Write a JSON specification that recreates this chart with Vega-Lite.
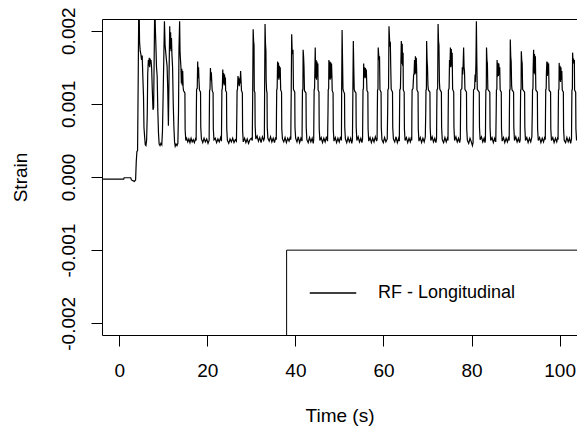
{
"$schema": "https://vega.github.io/schema/vega-lite/v6.json",
"width": 475, "height": 316,
"autosize": "none",
"padding": {"left": 102, "top": 19, "right": 0, "bottom": 92},
"background": "white",
"config": {
  "view": {"stroke": null},
  "font": "Liberation Sans",
  "axis": {"grid": false, "domainColor": "#000", "domainWidth": 1, "tickColor": "#000", "tickWidth": 1, "tickSize": 11,
           "labelColor": "#000", "titleColor": "#000", "labelFont": "Liberation Sans", "titleFont": "Liberation Sans",
           "labelFontSize": 19, "titleFontSize": 19, "titleFontWeight": "normal", "labelOverlap": false, "labelFlush": false}
},
"data": {"values": [
{"time":-4.0,"strain":-0.00003},{"time":1.0,"strain":-0.00003},{"time":1.1,"strain":-0.00001},{"time":2.6,"strain":-0.00001},{"time":2.75,"strain":-0.00004},{"time":3.4,"strain":-0.00006},{"time":3.7,"strain":-0.00004},{"time":3.85,"strain":0.00021},{"time":4.0,"strain":0.00035},{"time":4.15,"strain":0.00036},{"time":4.3,"strain":0.0014},{"time":4.45,"strain":0.0026},{"time":4.6,"strain":0.00185},{"time":4.75,"strain":0.00172},{"time":4.9,"strain":0.00168},{"time":5.05,"strain":0.0016},{"time":5.2,"strain":0.00166},{"time":5.35,"strain":0.00136},{"time":5.5,"strain":0.0011},{"time":5.6,"strain":0.00068},{"time":5.75,"strain":0.00055},{"time":5.9,"strain":0.00044},{"time":6.05,"strain":0.00043},{"time":6.2,"strain":0.0005},{"time":6.35,"strain":0.00085},{"time":6.45,"strain":0.0014},{"time":6.6,"strain":0.0016},{"time":6.7,"strain":0.00152},{"time":6.8,"strain":0.00163},{"time":6.9,"strain":0.0015},{"time":7.0,"strain":0.00162},{"time":7.1,"strain":0.00155},{"time":7.2,"strain":0.0016},{"time":7.35,"strain":0.00148},{"time":7.5,"strain":0.00118},{"time":7.65,"strain":0.00092},{"time":7.8,"strain":0.00095},{"time":7.95,"strain":0.0018},{"time":8.05,"strain":0.0024},{"time":8.2,"strain":0.002},{"time":8.3,"strain":0.00182},{"time":8.45,"strain":0.0015},{"time":8.6,"strain":0.00138},{"time":8.75,"strain":0.0009},{"time":8.9,"strain":0.0006},{"time":9.05,"strain":0.00045},{"time":9.25,"strain":0.00043},{"time":9.45,"strain":0.00046},{"time":9.65,"strain":0.00044},{"time":9.8,"strain":0.00062},{"time":9.95,"strain":0.0011},{"time":10.1,"strain":0.0016},{"time":10.25,"strain":0.00213},{"time":10.4,"strain":0.0018},{"time":10.55,"strain":0.0017},{"time":10.7,"strain":0.0016},{"time":10.85,"strain":0.00152},{"time":11.0,"strain":0.0012},{"time":11.15,"strain":0.0007},{"time":11.3,"strain":0.0014},{"time":11.45,"strain":0.00206},{"time":11.55,"strain":0.00175},{"time":11.65,"strain":0.00198},{"time":11.75,"strain":0.00172},{"time":11.85,"strain":0.0019},{"time":11.95,"strain":0.00168},{"time":12.1,"strain":0.0015},{"time":12.25,"strain":0.001},{"time":12.4,"strain":0.00068},{"time":12.55,"strain":0.00048},{"time":12.7,"strain":0.00042},{"time":12.9,"strain":0.00045},{"time":13.1,"strain":0.00043},{"time":13.3,"strain":0.00046},{"time":13.45,"strain":0.0009},{"time":13.55,"strain":0.00174},{"time":13.7,"strain":0.00213},{"time":13.8,"strain":0.0017},{"time":13.9,"strain":0.0016},{"time":14.0,"strain":0.0015},{"time":14.1,"strain":0.00128},{"time":14.2,"strain":0.00148},{"time":14.3,"strain":0.00125},{"time":14.4,"strain":0.00145},{"time":14.5,"strain":0.00122},{"time":14.6,"strain":0.00118},{"time":14.9,"strain":0.00115},{"time":14.95,"strain":0.00065},{"time":15.1,"strain":0.0005},
{"time":15.3,"strain":0.00053},{"time":15.55,"strain":0.00048},{"time":15.8,"strain":0.00052},{"time":16.05,"strain":0.00047},{"time":16.3,"strain":0.00053},{"time":16.55,"strain":0.00048},{"time":16.8,"strain":0.00051},{"time":17.05,"strain":0.00047},{"time":17.3,"strain":0.00052},{"time":17.45,"strain":0.0005},
{"time":17.5,"strain":0.00088},{"time":17.55,"strain":0.0012},{"time":17.7,"strain":0.00121},{"time":17.8,"strain":0.00158},{"time":17.9,"strain":0.00135},{"time":18.0,"strain":0.0015},{"time":18.1,"strain":0.00132},{"time":18.2,"strain":0.00119},{"time":18.45,"strain":0.00116},{"time":18.5,"strain":0.00068},{"time":18.65,"strain":0.00052},
{"time":18.95,"strain":0.00047},{"time":19.25,"strain":0.00053},{"time":19.55,"strain":0.00048},{"time":19.85,"strain":0.00052},{"time":20.15,"strain":0.00046},{"time":20.4,"strain":0.0005},
{"time":20.45,"strain":0.00086},{"time":20.5,"strain":0.00118},{"time":20.6,"strain":0.0012},{"time":20.7,"strain":0.00149},{"time":20.8,"strain":0.00132},{"time":20.9,"strain":0.00143},{"time":21.0,"strain":0.0013},{"time":21.1,"strain":0.00118},{"time":21.3,"strain":0.00115},{"time":21.35,"strain":0.00066},{"time":21.5,"strain":0.00051},
{"time":21.8,"strain":0.00053},{"time":22.1,"strain":0.00047},{"time":22.4,"strain":0.00052},{"time":22.7,"strain":0.00048},{"time":23.0,"strain":0.00054},{"time":23.2,"strain":0.00049},
{"time":23.25,"strain":0.00088},{"time":23.3,"strain":0.00119},{"time":23.4,"strain":0.00121},{"time":23.5,"strain":0.00147},{"time":23.6,"strain":0.00128},{"time":23.7,"strain":0.00142},{"time":23.8,"strain":0.00125},{"time":23.9,"strain":0.0014},{"time":24.0,"strain":0.00127},{"time":24.1,"strain":0.00136},{"time":24.15,"strain":0.00118},{"time":24.35,"strain":0.00116},{"time":24.4,"strain":0.00066},{"time":24.55,"strain":0.0005},
{"time":24.85,"strain":0.00046},{"time":25.15,"strain":0.00052},{"time":25.45,"strain":0.00048},{"time":25.75,"strain":0.00053},{"time":26.05,"strain":0.00047},{"time":26.35,"strain":0.00051},{"time":26.6,"strain":0.00049},
{"time":26.7,"strain":0.0009},{"time":26.75,"strain":0.00118},{"time":26.85,"strain":0.0012},{"time":26.95,"strain":0.00138},{"time":27.05,"strain":0.00126},{"time":27.15,"strain":0.00136},{"time":27.25,"strain":0.00124},{"time":27.35,"strain":0.00134},{"time":27.45,"strain":0.00128},{"time":27.55,"strain":0.00145},{"time":27.65,"strain":0.00132},{"time":27.75,"strain":0.00118},{"time":27.95,"strain":0.00115},{"time":28.0,"strain":0.00064},{"time":28.15,"strain":0.00048},
{"time":28.45,"strain":0.00053},{"time":28.75,"strain":0.00047},{"time":29.05,"strain":0.00052},{"time":29.35,"strain":0.00046},{"time":29.65,"strain":0.00051},{"time":29.95,"strain":0.00053},{"time":30.2,"strain":0.0005},
{"time":30.3,"strain":0.00118},{"time":30.4,"strain":0.00202},{"time":30.5,"strain":0.00186},{"time":30.6,"strain":0.0018},{"time":30.65,"strain":0.00118},{"time":30.8,"strain":0.00115},{"time":30.85,"strain":0.0007},{"time":31.0,"strain":0.00052},
{"time":31.3,"strain":0.00056},{"time":31.6,"strain":0.00049},{"time":31.9,"strain":0.00054},{"time":32.2,"strain":0.00047},{"time":32.5,"strain":0.00055},{"time":32.8,"strain":0.0005},{"time":32.95,"strain":0.00053},
{"time":33.0,"strain":0.00118},{"time":33.1,"strain":0.00209},{"time":33.2,"strain":0.00182},{"time":33.3,"strain":0.00172},{"time":33.35,"strain":0.00133},{"time":33.45,"strain":0.00118},{"time":33.55,"strain":0.00115},{"time":33.6,"strain":0.00068},{"time":33.75,"strain":0.00053},
{"time":34.05,"strain":0.00049},{"time":34.35,"strain":0.00055},{"time":34.65,"strain":0.00048},{"time":34.95,"strain":0.00053},{"time":35.25,"strain":0.00047},{"time":35.5,"strain":0.00054},{"time":35.65,"strain":0.00051},
{"time":35.7,"strain":0.00088},{"time":35.75,"strain":0.00119},{"time":35.85,"strain":0.00121},{"time":35.95,"strain":0.00158},{"time":36.05,"strain":0.00135},{"time":36.15,"strain":0.00156},{"time":36.25,"strain":0.00133},{"time":36.35,"strain":0.00152},{"time":36.45,"strain":0.00136},{"time":36.55,"strain":0.0015},{"time":36.65,"strain":0.00119},{"time":36.85,"strain":0.00116},{"time":36.9,"strain":0.00066},{"time":37.05,"strain":0.00052},
{"time":37.35,"strain":0.00048},{"time":37.65,"strain":0.00054},{"time":37.95,"strain":0.00047},{"time":38.25,"strain":0.00053},{"time":38.55,"strain":0.00049},{"time":38.85,"strain":0.00055},{"time":38.95,"strain":0.00051},
{"time":39.0,"strain":0.0009},{"time":39.05,"strain":0.00119},{"time":39.15,"strain":0.00195},{"time":39.25,"strain":0.00174},{"time":39.35,"strain":0.00168},{"time":39.45,"strain":0.00174},{"time":39.55,"strain":0.0012},{"time":39.85,"strain":0.00116},{"time":39.9,"strain":0.00068},{"time":40.05,"strain":0.00053},
{"time":40.35,"strain":0.00048},{"time":40.65,"strain":0.00055},{"time":40.95,"strain":0.00047},{"time":41.25,"strain":0.00053},{"time":41.5,"strain":0.00049},
{"time":41.55,"strain":0.0009},{"time":41.6,"strain":0.00119},{"time":41.7,"strain":0.0012},{"time":41.75,"strain":0.00174},{"time":41.85,"strain":0.00165},{"time":41.95,"strain":0.0015},{"time":42.05,"strain":0.00118},{"time":42.4,"strain":0.00115},{"time":42.45,"strain":0.00068},{"time":42.6,"strain":0.00051},
{"time":42.9,"strain":0.00047},{"time":43.2,"strain":0.00054},{"time":43.5,"strain":0.00048},{"time":43.8,"strain":0.00053},{"time":44.05,"strain":0.00046},{"time":44.15,"strain":0.00051},
{"time":44.2,"strain":0.00088},{"time":44.25,"strain":0.00119},{"time":44.35,"strain":0.00121},{"time":44.45,"strain":0.00158},{"time":44.5,"strain":0.00177},{"time":44.6,"strain":0.00135},{"time":44.7,"strain":0.0016},{"time":44.8,"strain":0.00133},{"time":44.9,"strain":0.00158},{"time":45.0,"strain":0.00137},{"time":45.1,"strain":0.00155},{"time":45.15,"strain":0.00119},{"time":45.35,"strain":0.00116},{"time":45.4,"strain":0.00066},{"time":45.55,"strain":0.0005},
{"time":45.85,"strain":0.00054},{"time":46.15,"strain":0.00047},{"time":46.45,"strain":0.00053},{"time":46.75,"strain":0.00048},{"time":47.05,"strain":0.00055},{"time":47.3,"strain":0.00049},
{"time":47.4,"strain":0.0009},{"time":47.45,"strain":0.00119},{"time":47.55,"strain":0.00121},{"time":47.6,"strain":0.0016},{"time":47.7,"strain":0.00134},{"time":47.8,"strain":0.00158},{"time":47.9,"strain":0.00133},{"time":48.0,"strain":0.00157},{"time":48.1,"strain":0.00135},{"time":48.2,"strain":0.00155},{"time":48.3,"strain":0.00136},{"time":48.35,"strain":0.00118},{"time":48.55,"strain":0.00115},{"time":48.6,"strain":0.00065},{"time":48.75,"strain":0.00049},
{"time":49.05,"strain":0.00054},{"time":49.35,"strain":0.00047},{"time":49.65,"strain":0.00053},{"time":49.95,"strain":0.00048},{"time":50.25,"strain":0.00055},{"time":50.45,"strain":0.0005},
{"time":50.5,"strain":0.00118},{"time":50.6,"strain":0.00201},{"time":50.7,"strain":0.0016},{"time":50.8,"strain":0.0012},{"time":50.95,"strain":0.00117},{"time":51.15,"strain":0.00114},{"time":51.2,"strain":0.00068},{"time":51.35,"strain":0.00052},
{"time":51.65,"strain":0.00047},{"time":51.95,"strain":0.00054},{"time":52.25,"strain":0.00048},{"time":52.55,"strain":0.00053},{"time":52.8,"strain":0.00046},{"time":52.95,"strain":0.00051},
{"time":53.05,"strain":0.00118},{"time":53.15,"strain":0.00186},{"time":53.25,"strain":0.0015},{"time":53.35,"strain":0.0012},{"time":53.5,"strain":0.00117},{"time":53.75,"strain":0.00115},{"time":53.8,"strain":0.00068},{"time":53.95,"strain":0.0005},
{"time":54.25,"strain":0.00055},{"time":54.55,"strain":0.00048},{"time":54.85,"strain":0.00053},{"time":55.1,"strain":0.00047},{"time":55.25,"strain":0.00052},
{"time":55.3,"strain":0.00088},{"time":55.35,"strain":0.00119},{"time":55.45,"strain":0.00121},{"time":55.5,"strain":0.00155},{"time":55.6,"strain":0.00137},{"time":55.7,"strain":0.0015},{"time":55.8,"strain":0.00135},{"time":55.9,"strain":0.00149},{"time":56.0,"strain":0.00136},{"time":56.1,"strain":0.00147},{"time":56.25,"strain":0.00118},{"time":56.45,"strain":0.00116},{"time":56.5,"strain":0.00066},{"time":56.65,"strain":0.00049},
{"time":56.95,"strain":0.00054},{"time":57.25,"strain":0.00047},{"time":57.55,"strain":0.00053},{"time":57.85,"strain":0.00048},{"time":58.15,"strain":0.00055},{"time":58.45,"strain":0.00049},{"time":58.55,"strain":0.00052},
{"time":58.6,"strain":0.0009},{"time":58.65,"strain":0.00119},{"time":58.75,"strain":0.0012},{"time":58.8,"strain":0.00177},{"time":58.9,"strain":0.00168},{"time":59.0,"strain":0.0016},{"time":59.1,"strain":0.00165},{"time":59.2,"strain":0.00119},{"time":59.45,"strain":0.00116},{"time":59.5,"strain":0.00068},{"time":59.65,"strain":0.00051},
{"time":59.95,"strain":0.00047},{"time":60.25,"strain":0.00054},{"time":60.55,"strain":0.00048},{"time":60.85,"strain":0.00052},
{"time":60.95,"strain":0.0009},{"time":61.0,"strain":0.00119},{"time":61.15,"strain":0.00121},{"time":61.25,"strain":0.00206},{"time":61.35,"strain":0.00192},{"time":61.45,"strain":0.00178},{"time":61.55,"strain":0.00185},{"time":61.65,"strain":0.0015},{"time":61.75,"strain":0.0012},{"time":62.05,"strain":0.00116},{"time":62.1,"strain":0.00068},{"time":62.25,"strain":0.00052},
{"time":62.55,"strain":0.00048},{"time":62.85,"strain":0.00055},{"time":63.15,"strain":0.00047},{"time":63.45,"strain":0.00053},{"time":63.6,"strain":0.00049},
{"time":63.65,"strain":0.0009},{"time":63.7,"strain":0.00119},{"time":63.85,"strain":0.00121},{"time":63.95,"strain":0.00153},{"time":64.05,"strain":0.00186},{"time":64.15,"strain":0.00155},{"time":64.25,"strain":0.00182},{"time":64.35,"strain":0.00152},{"time":64.45,"strain":0.0017},{"time":64.5,"strain":0.00119},{"time":64.7,"strain":0.00116},{"time":64.75,"strain":0.00066},{"time":64.9,"strain":0.0005},
{"time":65.2,"strain":0.00054},{"time":65.5,"strain":0.00047},{"time":65.8,"strain":0.00053},{"time":66.1,"strain":0.00048},{"time":66.35,"strain":0.00055},{"time":66.42,"strain":0.0005},
{"time":66.45,"strain":0.0009},{"time":66.5,"strain":0.00119},{"time":66.7,"strain":0.00121},{"time":66.85,"strain":0.0014},{"time":66.95,"strain":0.00142},{"time":67.05,"strain":0.0016},{"time":67.15,"strain":0.0014},{"time":67.25,"strain":0.00165},{"time":67.35,"strain":0.00142},{"time":67.45,"strain":0.00163},{"time":67.55,"strain":0.00143},{"time":67.6,"strain":0.00119},{"time":67.85,"strain":0.00116},{"time":67.9,"strain":0.00066},{"time":68.05,"strain":0.00049},
{"time":68.35,"strain":0.00054},{"time":68.65,"strain":0.00047},{"time":68.95,"strain":0.00053},{"time":69.25,"strain":0.00048},{"time":69.5,"strain":0.00055},
{"time":69.6,"strain":0.0009},{"time":69.65,"strain":0.00119},{"time":69.75,"strain":0.0012},{"time":69.8,"strain":0.00186},{"time":69.9,"strain":0.0016},{"time":70.0,"strain":0.0015},{"time":70.1,"strain":0.00125},{"time":70.2,"strain":0.00119},{"time":70.55,"strain":0.00116},{"time":70.6,"strain":0.00068},{"time":70.75,"strain":0.0005},
{"time":71.05,"strain":0.00055},{"time":71.35,"strain":0.00048},{"time":71.65,"strain":0.00053},{"time":71.9,"strain":0.00047},{"time":72.05,"strain":0.00052},
{"time":72.1,"strain":0.0009},{"time":72.15,"strain":0.00119},{"time":72.3,"strain":0.00121},{"time":72.4,"strain":0.00209},{"time":72.5,"strain":0.00186},{"time":72.6,"strain":0.0018},{"time":72.7,"strain":0.0013},{"time":72.8,"strain":0.0012},{"time":73.15,"strain":0.00116},{"time":73.2,"strain":0.00068},{"time":73.35,"strain":0.00051},
{"time":73.65,"strain":0.00047},{"time":73.95,"strain":0.00054},{"time":74.25,"strain":0.00048},{"time":74.5,"strain":0.00053},{"time":74.65,"strain":0.0005},
{"time":74.7,"strain":0.0009},{"time":74.75,"strain":0.00119},{"time":74.9,"strain":0.00121},{"time":75.0,"strain":0.0016},{"time":75.1,"strain":0.0015},{"time":75.2,"strain":0.00177},{"time":75.3,"strain":0.0015},{"time":75.4,"strain":0.00175},{"time":75.5,"strain":0.00152},{"time":75.6,"strain":0.0017},{"time":75.7,"strain":0.0012},{"time":75.95,"strain":0.00116},{"time":76.0,"strain":0.00068},{"time":76.15,"strain":0.0005},
{"time":76.45,"strain":0.00055},{"time":76.75,"strain":0.00048},{"time":77.05,"strain":0.00053},{"time":77.3,"strain":0.00047},{"time":77.45,"strain":0.00052},
{"time":77.5,"strain":0.0009},{"time":77.55,"strain":0.00119},{"time":77.8,"strain":0.00121},{"time":77.9,"strain":0.0015},{"time":78.0,"strain":0.0014},{"time":78.1,"strain":0.00155},{"time":78.2,"strain":0.00177},{"time":78.3,"strain":0.0015},{"time":78.4,"strain":0.00145},{"time":78.5,"strain":0.0012},{"time":78.85,"strain":0.00116},{"time":78.9,"strain":0.00066},{"time":79.05,"strain":0.0005},
{"time":79.35,"strain":0.00046},{"time":79.65,"strain":0.00053},{"time":79.95,"strain":0.00048},{"time":80.2,"strain":0.00043},{"time":80.35,"strain":0.00047},
{"time":80.4,"strain":0.0009},{"time":80.45,"strain":0.00119},{"time":80.7,"strain":0.00121},{"time":80.8,"strain":0.0014},{"time":80.9,"strain":0.0013},{"time":81.0,"strain":0.00158},{"time":81.1,"strain":0.00213},{"time":81.2,"strain":0.00158},{"time":81.3,"strain":0.0012},{"time":81.75,"strain":0.00116},{"time":81.8,"strain":0.00068},{"time":81.95,"strain":0.00051},
{"time":82.25,"strain":0.00055},{"time":82.55,"strain":0.00048},{"time":82.85,"strain":0.00053},{"time":83.05,"strain":0.00047},{"time":83.15,"strain":0.00051},
{"time":83.2,"strain":0.0009},{"time":83.25,"strain":0.00119},{"time":83.35,"strain":0.0012},{"time":83.4,"strain":0.00177},{"time":83.5,"strain":0.0016},{"time":83.6,"strain":0.00155},{"time":83.7,"strain":0.0012},{"time":84.15,"strain":0.00116},{"time":84.2,"strain":0.00068},{"time":84.35,"strain":0.0005},
{"time":84.65,"strain":0.00054},{"time":84.95,"strain":0.00047},{"time":85.25,"strain":0.00053},{"time":85.5,"strain":0.00048},
{"time":85.6,"strain":0.0009},{"time":85.65,"strain":0.00119},{"time":85.75,"strain":0.0012},{"time":85.8,"strain":0.0016},{"time":85.9,"strain":0.00137},{"time":86.0,"strain":0.00156},{"time":86.1,"strain":0.00138},{"time":86.2,"strain":0.00155},{"time":86.3,"strain":0.0014},{"time":86.4,"strain":0.0015},{"time":86.5,"strain":0.00119},{"time":86.75,"strain":0.00116},{"time":86.8,"strain":0.00066},{"time":86.95,"strain":0.00049},
{"time":87.25,"strain":0.00054},{"time":87.55,"strain":0.00047},{"time":87.85,"strain":0.00053},{"time":88.15,"strain":0.00048},{"time":88.45,"strain":0.00055},{"time":88.55,"strain":0.0005},
{"time":88.6,"strain":0.0009},{"time":88.65,"strain":0.00119},{"time":88.75,"strain":0.0012},{"time":88.8,"strain":0.00188},{"time":88.9,"strain":0.00165},{"time":89.0,"strain":0.00158},{"time":89.1,"strain":0.00125},{"time":89.2,"strain":0.00119},{"time":89.55,"strain":0.00116},{"time":89.6,"strain":0.00068},{"time":89.75,"strain":0.0005},
{"time":90.05,"strain":0.00055},{"time":90.35,"strain":0.00048},{"time":90.65,"strain":0.00053},{"time":90.9,"strain":0.00047},{"time":91.05,"strain":0.00051},
{"time":91.1,"strain":0.0009},{"time":91.15,"strain":0.00119},{"time":91.25,"strain":0.0012},{"time":91.3,"strain":0.00172},{"time":91.4,"strain":0.0016},{"time":91.5,"strain":0.00155},{"time":91.6,"strain":0.0012},{"time":92.05,"strain":0.00116},{"time":92.1,"strain":0.00068},{"time":92.25,"strain":0.0005},
{"time":92.55,"strain":0.00054},{"time":92.85,"strain":0.00047},{"time":93.15,"strain":0.00053},{"time":93.45,"strain":0.00048},{"time":93.7,"strain":0.00055},
{"time":93.8,"strain":0.0009},{"time":93.85,"strain":0.00119},{"time":93.95,"strain":0.00121},{"time":94.0,"strain":0.0015},{"time":94.1,"strain":0.00174},{"time":94.2,"strain":0.00142},{"time":94.3,"strain":0.00168},{"time":94.4,"strain":0.0014},{"time":94.5,"strain":0.00165},{"time":94.6,"strain":0.00119},{"time":94.95,"strain":0.00116},{"time":95.0,"strain":0.00066},{"time":95.15,"strain":0.0005},
{"time":95.45,"strain":0.00054},{"time":95.75,"strain":0.00047},{"time":96.05,"strain":0.00053},{"time":96.35,"strain":0.00048},{"time":96.65,"strain":0.00055},{"time":96.75,"strain":0.00051},
{"time":96.8,"strain":0.0009},{"time":96.85,"strain":0.00119},{"time":96.95,"strain":0.00121},{"time":97.0,"strain":0.0014},{"time":97.1,"strain":0.00158},{"time":97.2,"strain":0.00138},{"time":97.3,"strain":0.00157},{"time":97.4,"strain":0.0014},{"time":97.5,"strain":0.00155},{"time":97.6,"strain":0.00119},{"time":97.95,"strain":0.00116},{"time":98.0,"strain":0.00066},{"time":98.15,"strain":0.0005},
{"time":98.45,"strain":0.00054},{"time":98.75,"strain":0.00047},{"time":99.05,"strain":0.00053},{"time":99.35,"strain":0.00048},{"time":99.6,"strain":0.00055},{"time":99.65,"strain":0.00051},
{"time":99.7,"strain":0.0009},{"time":99.75,"strain":0.00119},{"time":99.85,"strain":0.0012},{"time":99.9,"strain":0.00156},{"time":100.0,"strain":0.00132},{"time":100.1,"strain":0.00152},{"time":100.2,"strain":0.0013},{"time":100.3,"strain":0.0015},{"time":100.4,"strain":0.00133},{"time":100.5,"strain":0.00145},{"time":100.6,"strain":0.00119},{"time":100.85,"strain":0.00116},{"time":100.9,"strain":0.00066},{"time":101.05,"strain":0.0005},
{"time":101.35,"strain":0.00047},{"time":101.65,"strain":0.00054},{"time":101.95,"strain":0.00048},{"time":102.25,"strain":0.00053},{"time":102.5,"strain":0.00046},{"time":102.7,"strain":0.00052},
{"time":102.75,"strain":0.0009},{"time":102.8,"strain":0.00119},{"time":102.9,"strain":0.0012},{"time":102.95,"strain":0.0017},{"time":103.05,"strain":0.00158},{"time":103.15,"strain":0.00162},{"time":103.25,"strain":0.00155},{"time":103.35,"strain":0.0016},{"time":103.4,"strain":0.00119},{"time":103.65,"strain":0.00116},{"time":103.7,"strain":0.00066},{"time":103.85,"strain":0.0005},{"time":104.0,"strain":0.00054},{"time":104.2,"strain":0.00049}
]},
"layer": [
  {
    "mark": {"type": "line", "clip": true, "strokeWidth": 1.2},
    "encoding": {
      "x": {"field": "time", "type": "quantitative",
            "scale": {"domain": [-3.93, 103.95], "nice": false, "zero": false},
            "axis": {"title": "Time (s)", "values": [0, 20, 40, 60, 80, 100], "labelPadding": 30.7, "labelBaseline": "alphabetic",
                     "titleX": 237.5, "titleY": 86.5, "titleBaseline": "alphabetic", "titleAlign": "center"}},
      "y": {"field": "strain", "type": "quantitative",
            "scale": {"domain": [-0.00216, 0.00216], "nice": false, "zero": false},
            "axis": {"title": "Strain", "values": [-0.002, -0.001, 0, 0.001, 0.002],
                     "labelExpr": "replace(format(datum.value, '.3f'), '\u2212', '-')",
                     "labelAngle": -90, "labelAlign": "center", "labelBaseline": "alphabetic", "labelPadding": 17,
                     "titleX": -75.3, "titleY": 158, "titleAngle": -90, "titleAlign": "center", "titleBaseline": "alphabetic"}},
      "color": {"datum": "RF - Longitudinal", "type": "nominal", "scale": {"range": ["#000000"]},
                "legend": {"orient": "none", "legendX": 207, "legendY": 250, "title": null, "symbolType": "stroke",
                           "symbolSize": 2160, "symbolStrokeWidth": 1.3, "labelFontSize": 18, "labelColor": "#000",
                           "labelFont": "Liberation Sans", "labelOffset": 21, "padding": 0}}
    }
  },
  {
    "data": {"values": [{}]},
    "mark": {"type": "rect", "clip": true, "fill": "white", "stroke": "#000", "strokeWidth": 1},
    "encoding": {
      "x": {"datum": 38.0, "type": "quantitative", "axis": {"orient": "top", "labels": false, "ticks": false, "title": null, "domain": true}},
      "x2": {"datum": 106},
      "y": {"datum": -0.001, "type": "quantitative"},
      "y2": {"datum": -0.0023}
    }
  }
],
"resolve": {"axis": {"x": "independent"}}
}
